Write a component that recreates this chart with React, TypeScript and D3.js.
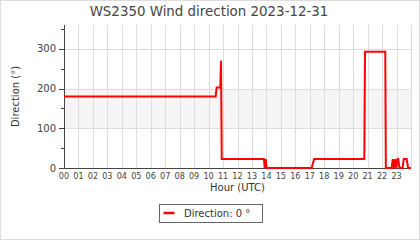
import React from "react";
import * as d3 from "d3";

const title = "WS2350 Wind direction 2023-12-31";
const yLabel = "Direction (°)";
const xLabel = "Hour (UTC)";
const legendLabel = "Direction: 0 °";
const hourTicks = d3.range(0, 24);
const yMajorTicks = [0, 100, 200, 300];
const yMinorTicks = [50, 150, 250, 350];

const times = [
  0, 10.49, 10.56, 10.81, 10.86, 10.91, 13.83, 13.88, 13.95, 14.02, 17.13, 17.3,
  20.77, 20.82, 22.22, 22.26, 22.66, 22.74, 22.82, 22.9, 22.98, 23.06, 23.12,
  23.2, 23.42, 23.5, 23.7, 23.8, 24,
];
const values = [
  180, 180, 202.5, 202.5, 270, 22.5, 22.5, 0, 22.5, 0, 0, 22.5,
  22.5, 292.5, 292.5, 0, 0, 22.5, 0, 22.5, 0, 22.5, 22.5,
  0, 0, 22.5, 22.5, 0, 0,
];

const W = 420;
const H = 240;
const L = 64;
const R = 411;
const T = 25;
const B = 168;

export default function App() {
  const x = d3.scaleLinear().domain([0, 24]).range([L, R]);
  const y = d3.scaleLinear().domain([0, 360]).range([B, T]);
  const pts = times.map((t, i) => [t, values[i]] as [number, number]);
  const line = d3
    .line<[number, number]>()
    .x((d) => x(d[0]))
    .y((d) => y(d[1]));
  const font = "DejaVu Sans, sans-serif";
  return (
    <svg
      width={W}
      height={H}
      style={{ position: "absolute", left: 0, top: 0, background: "#fff" }}
      fontFamily={font}
    >
      <rect x={0.5} y={0.5} width={W - 1} height={H - 1} fill="#fff" stroke="#ddd" />
      <text x={209} y={16} textAnchor="middle" fontSize={13.4} fill="#444">
        {title}
      </text>
      {/* band */}
      <rect x={L} y={y(200)} width={R - L} height={y(100) - y(200)} fill="#f5f5f5" />
      {/* grid */}
      {d3.range(1, 25).map((h) => (
        <line
          key={"vg" + h}
          x1={Math.round(x(h)) + 0.5}
          x2={Math.round(x(h)) + 0.5}
          y1={T}
          y2={B}
          stroke="#ddd"
        />
      ))}
      {[100, 200, 300].map((v) => (
        <line
          key={"hg" + v}
          x1={L}
          x2={R}
          y1={Math.round(y(v)) + 0.5}
          y2={Math.round(y(v)) + 0.5}
          stroke="#ddd"
        />
      ))}
      {/* y axis */}
      <line x1={L + 0.5} x2={L + 0.5} y1={T} y2={B} stroke="#444" />
      {yMajorTicks.map((v) => (
        <g key={"yt" + v}>
          <line
            x1={L - 5}
            x2={L}
            y1={Math.round(y(v)) + 0.5}
            y2={Math.round(y(v)) + 0.5}
            stroke="#444"
          />
          <text x={L - 8} y={y(v) + 3.5} textAnchor="end" fontSize={10} fill="#444">
            {v}
          </text>
        </g>
      ))}
      {yMinorTicks.map((v) => (
        <line
          key={"ym" + v}
          x1={L - 3}
          x2={L}
          y1={Math.round(y(v)) + 0.5}
          y2={Math.round(y(v)) + 0.5}
          stroke="#444"
        />
      ))}
      <text
        transform={`translate(18.5,${(T + B) / 2}) rotate(-90)`}
        textAnchor="middle"
        fontSize={10}
        fill="#333"
      >
        {yLabel}
      </text>
      {/* x axis */}
      <line x1={L} x2={R} y1={B + 0.5} y2={B + 0.5} stroke="#444" />
      {hourTicks.map((h) => (
        <text
          key={"xt" + h}
          x={x(h)}
          y={179}
          textAnchor="middle"
          fontSize={9}
          fontFamily="DejaVu Sans Condensed, DejaVu Sans, sans-serif"
          fill="#444"
        >
          {String(h).padStart(2, "0")}
        </text>
      ))}
      <text x={(L + R) / 2} y={191} textAnchor="middle" fontSize={10} fill="#333">
        {xLabel}
      </text>
      {/* data line */}
      <path d={line(pts) ?? ""} fill="none" stroke="#ff0000" strokeWidth={2} />
      {/* legend */}
      <rect x={159.5} y={204.5} width={103} height={18} fill="#fff" stroke="#666" />
      <line x1={163.5} x2={174.5} y1={213} y2={213} stroke="#ff0000" strokeWidth={2.5} />
      <text x={184} y={217} fontSize={10} fill="#333">
        {legendLabel}
      </text>
    </svg>
  );
}
